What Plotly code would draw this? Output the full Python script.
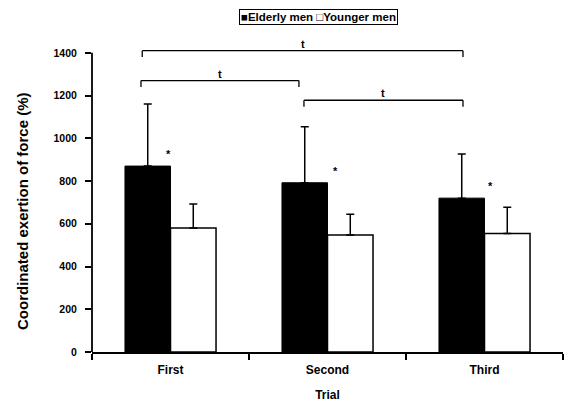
import plotly.graph_objects as go

categories = ["First", "Second", "Third"]
elderly = [870, 792, 720]
elderly_sd = [290, 262, 207]
younger = [580, 548, 555]
younger_sd = [112, 97, 122]
y_ticks = [0, 200, 400, 600, 800, 1000, 1200, 1400]

# significance brackets: (x start, x end, y level) in category-index units
brackets = [(-0.18, 1.863, 1410), (-0.188, 0.818, 1270), (0.85, 1.863, 1178)]
bracket_labels = ["t", "t", "t"]
# asterisks next to elderly bars
star_x = [-0.01, 1.048, 2.04]
star_offset = 55

FONT = "Liberation Sans, Arial, sans-serif"

fig = go.Figure()
fig.add_bar(
    x=categories, y=elderly, name="Elderly men",
    marker=dict(color="black", line=dict(color="black", width=1)),
    error_y=dict(type="data", array=elderly_sd, arrayminus=[0] * 3, symmetric=False,
                 color="black", thickness=1.5, width=4),
)
fig.add_bar(
    x=categories, y=younger, name="Younger men",
    marker=dict(color="white", line=dict(color="black", width=1.5)),
    error_y=dict(type="data", array=younger_sd, arrayminus=[0] * 3, symmetric=False,
                 color="black", thickness=1.5, width=4),
)

shapes = []
annotations = []
# y axis line from 0 to 1400
shapes.append(dict(type="line", xref="paper", yref="y", x0=0, x1=0, y0=0, y1=y_ticks[-1],
                   line=dict(color="black", width=1.8)))
drop = 30
for (x0, x1, yb), lab in zip(brackets, bracket_labels):
    shapes.append(dict(type="line", xref="x", yref="y", x0=x0, x1=x1, y0=yb, y1=yb,
                       line=dict(color="black", width=1.3)))
    for xx in (x0, x1):
        shapes.append(dict(type="line", xref="x", yref="y", x0=xx, x1=xx, y0=yb - drop, y1=yb,
                           line=dict(color="black", width=1.3)))
    annotations.append(dict(x=(x0 + x1) / 2, y=yb, xref="x", yref="y", text="<b>%s</b>" % lab,
                            showarrow=False, yanchor="bottom", yshift=-1,
                            font=dict(family=FONT, size=11, color="black")))
for xs, v in zip(star_x, elderly):
    annotations.append(dict(x=xs, y=v + star_offset, xref="x", yref="y", text="<b>*</b>",
                            showarrow=False, yanchor="middle",
                            font=dict(family=FONT, size=11, color="black")))

pw = 565 - 92 - 2
ph = 404 - 40 - 52
# legend drawn as boxed text
annotations.append(dict(x=(318 - 92) / pw, y=(404 - 52 - 17) / ph, xref="paper", yref="paper",
                        xanchor="center", yanchor="middle",
                        text="<b>■Elderly men □Younger men</b>",
                        showarrow=False, bordercolor="black", borderwidth=1, borderpad=1,
                        font=dict(family=FONT, size=11.5, color="black")))
# y axis title
annotations.append(dict(x=(22 - 92) / pw, y=(352 - 211) / ph, xref="paper", yref="paper",
                        xanchor="center", yanchor="middle", textangle=-90,
                        text="<b>Coordinated exertion of force (%)</b>", showarrow=False,
                        font=dict(family=FONT, size=15, color="black")))

fig.update_layout(
    width=565, height=404,
    margin=dict(l=92, r=2, t=40, b=52, autoexpand=False),
    paper_bgcolor="white", plot_bgcolor="white",
    barmode="group", bargap=0.42, bargroupgap=0,
    showlegend=False,
    font=dict(family=FONT, size=11, color="black", weight="bold"),
    shapes=shapes, annotations=annotations,
    xaxis=dict(range=[-0.5, 2.5], showline=True, linecolor="black", linewidth=1.8,
               ticks="outside", tickson="boundaries", ticklen=6, tickcolor="black", tickwidth=1.5,
               tickfont=dict(size=12, weight="bold"), automargin=False, ticklabelstandoff=6,
               showgrid=False, title=dict(text="Trial", standoff=14, font=dict(size=12, weight="bold"))),
    yaxis=dict(range=[0, 1460], tickvals=y_ticks, ticks="outside", ticklen=6, tickcolor="black",
               tickwidth=1.5, showline=False, showgrid=False, zeroline=False, automargin=False,
               tickfont=dict(size=10.5, weight="bold"), ticklabelstandoff=6),
)

fig.write_html("out.html", config={"displayModeBar": False},
               post_script="document.body.style.margin='0';")
